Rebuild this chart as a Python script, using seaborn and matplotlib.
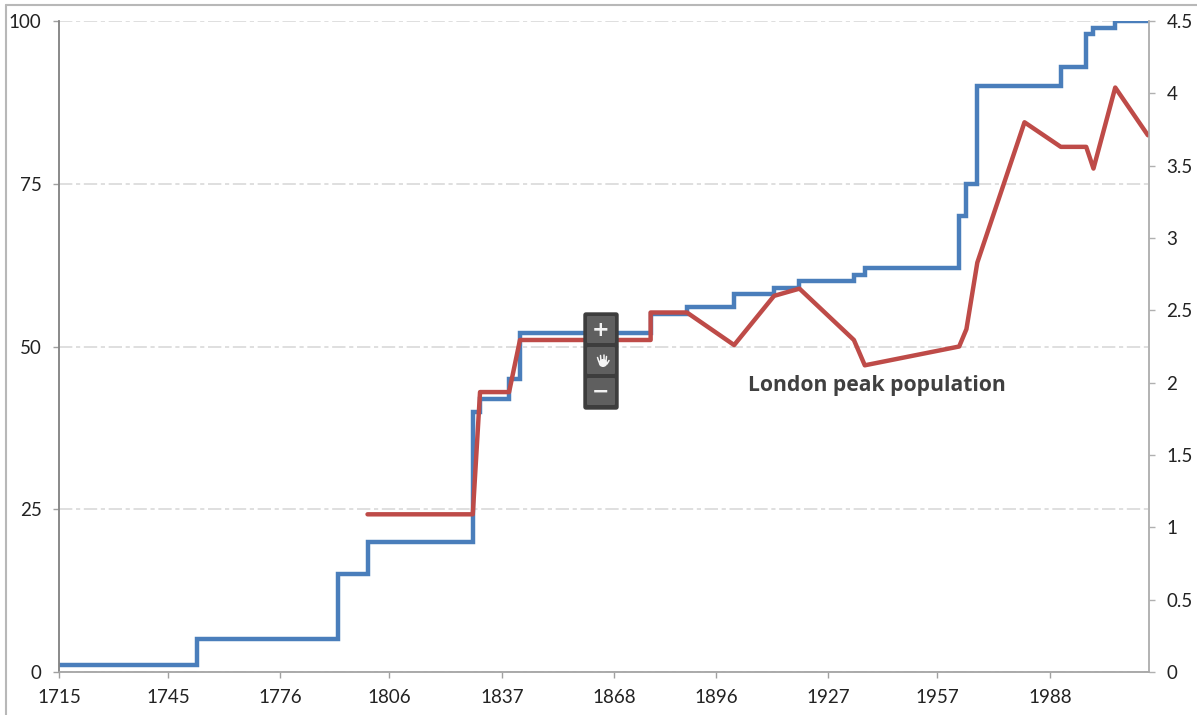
import pandas as pd
import matplotlib
matplotlib.use('Agg')
import matplotlib.pyplot as plt
import seaborn as sns
from matplotlib.patches import FancyBboxPatch, Ellipse
from matplotlib.lines import Line2D

# tube network share (left axis), step series
step_years = [1715, 1753, 1792, 1800, 1829, 1831, 1839, 1842, 1878, 1888, 1901, 1912,
              1919, 1934, 1937, 1963, 1965, 1968, 1991, 1998, 2000, 2006, 2015]
step_values = [1, 5, 15, 20, 40, 42, 45, 52, 55, 56, 58, 59,
               60, 61, 62, 70, 75, 90, 93, 98, 99, 100, 100]

# population (right axis)
pop_years = [1800, 1829, 1831, 1839, 1842, 1878, 1878, 1888, 1901, 1912, 1919, 1934,
             1937, 1963, 1965, 1968, 1981, 1991, 1998, 2000, 2006, 2015]
pop_values = [1.09, 1.09, 1.935, 1.935, 2.295, 2.295, 2.485, 2.485, 2.26, 2.60, 2.65, 2.295,
              2.12, 2.25, 2.37, 2.83, 3.80, 3.63, 3.63, 3.48, 4.04, 3.71]

x_ticks = [1715, 1745, 1776, 1806, 1837, 1868, 1896, 1927, 1957, 1988]
left_ticks = [0, 25, 50, 75, 100]
right_ticks = [0, 0.5, 1, 1.5, 2, 2.5, 3, 3.5, 4, 4.5]
right_labels = ['0', '0.5', '1', '1.5', '2', '2.5', '3', '3.5', '4', '4.5']

sns.set_theme(style='white')
plt.rcParams['font.family'] = ['Lato', 'DejaVu Sans']

W, H = 1197, 715
fig = plt.figure(figsize=(W / 100, H / 100), dpi=100)
ax = fig.add_axes([59 / W, (H - 672) / H, 1090 / W, 651 / H])
ax2 = ax.twinx()

steps = pd.DataFrame({'year': step_years, 'value': step_values})
pop = pd.DataFrame({'year': pop_years, 'value': pop_values})

sns.lineplot(data=steps, x='year', y='value', ax=ax, color='#4a7ebb', linewidth=3.2,
             drawstyle='steps-post', estimator=None, sort=False, legend=False,
             solid_joinstyle='miter')
sns.lineplot(data=pop, x='year', y='value', ax=ax2, color='#be4b48', linewidth=3.2,
             estimator=None, sort=False, legend=False,
             solid_joinstyle='round', solid_capstyle='round')

ax.set_xlim(1715, 2015.3)
ax.set_ylim(0, 100)
ax2.set_ylim(0, 4.5)
ax.set_xlabel('')
ax.set_ylabel('')
ax2.set_ylabel('')

ax.set_xticks(x_ticks)
ax.set_xticklabels([str(y) for y in x_ticks])
ax.set_yticks(left_ticks)
ax2.set_yticks(right_ticks)
ax2.set_yticklabels(right_labels)

# dash-dot gridlines
ax.set_axisbelow(True)
ax.grid(axis='y', color='#d9d9d9', linewidth=1.2, linestyle=(0, (8, 2.2, 2.5, 2.2)))
ax.grid(axis='x', visible=False)
ax2.grid(False)

ax.tick_params(axis='x', length=4.5, width=1, color='#a0a0a0', pad=8, labelsize=13.5,
               labelcolor='#222222', bottom=True)
ax.tick_params(axis='y', length=4.5, width=1, color='#a0a0a0', pad=8, labelsize=13.5,
               labelcolor='#222222', left=True)
ax2.tick_params(axis='y', length=4.5, width=1, color='#b0b0b0', pad=8, labelsize=13.5,
                labelcolor='#222222', right=True)

for a in (ax, ax2):
    a.spines['top'].set_visible(False)
    a.spines['left'].set_color('#868686')
    a.spines['bottom'].set_color('#a8a8a8')
    a.spines['right'].set_color('#b0b0b0')
    for s in a.spines.values():
        s.set_linewidth(1.1)

# overlay in pixel coordinates for screenshot furniture
ov = fig.add_axes([0, 0, 1, 1], zorder=10)
ov.set_xlim(0, W)
ov.set_ylim(H, 0)
ov.axis('off')
ov.patch.set_alpha(0)

ov.add_line(Line2D([6, 6], [5, H], color='#b8b8b8', linewidth=1.5))
ov.add_line(Line2D([6, W], [5, 5], color='#b8b8b8', linewidth=1.5))

ov.text(876.5, 386, 'London peak population', family=['Open Sans', 'DejaVu Sans'],
        fontsize=15.2, fontweight='bold', color='#404040', ha='center', va='center')

# zoom control
ov.add_patch(FancyBboxPatch((584, 313), 34, 96, boxstyle='round,pad=0,rounding_size=2',
                            facecolor='#3d3d3d', edgecolor='#3d3d3d', linewidth=1))
for top in [316, 347, 378]:
    ov.add_patch(FancyBboxPatch((587, top), 28, 27, boxstyle='round,pad=0,rounding_size=1',
                                facecolor='#5f5f5f', edgecolor='none'))
ov.text(601, 330, '+', family='DejaVu Sans', fontsize=15, fontweight='bold',
        color='#f2f2f2', ha='center', va='center')
ov.text(601, 392, '\u2212', family='DejaVu Sans', fontsize=15, fontweight='bold',
        color='#f2f2f2', ha='center', va='center')

# hand icon, no installed font has this glyph
ov.add_patch(Ellipse((603, 363), 8.5, 8, facecolor='#f4f4f4', edgecolor='none'))
for x0, y0, x1, y1 in [(599, 362, 597.5, 357.5), (601, 361, 600.5, 355.5),
                       (603.5, 361, 603.5, 355), (606, 361, 606.5, 356.5),
                       (607, 364, 609, 360.5)]:
    ov.add_line(Line2D([x0, x1], [y0, y1], color='#f4f4f4', linewidth=1.1,
                       solid_capstyle='round'))

plt.savefig('out.png', dpi=100)
plt.close()
